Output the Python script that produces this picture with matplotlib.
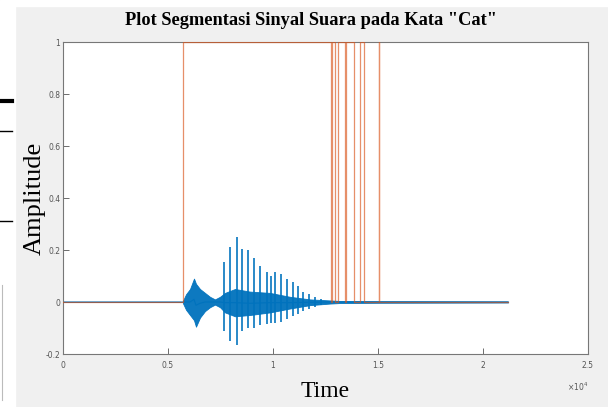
import numpy as np
import matplotlib
matplotlib.use("Agg")
import matplotlib.pyplot as plt
from matplotlib.patches import Rectangle
from matplotlib.lines import Line2D

# ---- data ----
# dense part of the speech waveform: sample index, upper and lower envelope
env_x = [0, 5700, 5714, 5860, 6048, 6238, 6333, 6524, 6762, 7000, 7238, 7476, 7714,
         8190, 8905, 9857, 10810, 11762, 12714, 13190, 15095, 21190]
env_hi = [0.0, 0.0, 0.005, 0.03, 0.05, 0.09, 0.07, 0.05, 0.035, 0.02, 0.01, 0.02, 0.035,
          0.05, 0.04, 0.035, 0.02, 0.01, 0.006, 0.004, 0.003, 0.002]
env_lo = [0.0, 0.0, -0.005, -0.03, -0.05, -0.07, -0.095, -0.06, -0.035, -0.02, -0.01, -0.02, -0.04,
          -0.055, -0.05, -0.04, -0.025, -0.012, -0.006, -0.004, -0.003, -0.002]

# glottal pulses of the voiced part: sample index, peak and trough
pulse_x = [7681, 7952, 8271, 8538, 8824, 9110, 9381, 9700, 9905, 10095, 10381, 10652,
           10938, 11176, 11443, 11714, 12000, 12286]
pulse_hi = [0.155, 0.21, 0.25, 0.205, 0.20, 0.17, 0.14, 0.117, 0.10, 0.117, 0.107, 0.09,
            0.078, 0.06, 0.04, 0.03, 0.02, 0.012]
pulse_lo = [-0.11, -0.15, -0.165, -0.11, -0.10, -0.10, -0.09, -0.085, -0.08, -0.08, -0.075,
            -0.065, -0.055, -0.045, -0.035, -0.025, -0.018, -0.01]

# segmentation (0/1) signal: transition times and level after each transition
seg_t = [0, 5714, 12762, 12810, 12952, 13095, 13440, 13480, 13857, 14143, 14333, 15030, 15070, 21190]
seg_v = [0, 1, 0, 1, 0, 1, 0, 1, 0, 1, 0, 1, 0, 0]

x_ticks = [0, 0.5e4, 1e4, 1.5e4, 2e4, 2.5e4]
x_ticklabels = ["0", "0.5", "1", "1.5", "2", "2.5"]
y_ticks = [-0.2, 0, 0.2, 0.4, 0.6, 0.8, 1]
y_ticklabels = ["-0.2", "0", "0.2", "0.4", "0.6", "0.8", "1"]

title = 'Plot Segmentasi Sinyal Suara pada Kata "Cat"'

# ---- figure ----
W, H = 608, 407
fig = plt.figure(figsize=(W / 100, H / 100), dpi=100)
fig.patch.set_facecolor("#f0f0f0")
# white scan border on left/top
fig.add_artist(Rectangle((0, 0), 15 / W, 1, transform=fig.transFigure, color="white", zorder=0))
fig.add_artist(Rectangle((0, 1 - 6 / H), 1, 6 / H, transform=fig.transFigure, color="white", zorder=0))
for (x0, x1, yy, lw) in [(0, 12, 101, 3.0), (0, 12, 131, 1.0), (0, 12, 221, 1.0)]:
    fig.add_artist(Line2D([x0 / W, x1 / W], [1 - yy / H, 1 - yy / H], transform=fig.transFigure,
                          color="black", lw=lw))
fig.add_artist(Line2D([2 / W, 2 / W], [1 - 285 / H, 1 - 400 / H], transform=fig.transFigure,
                      color="#bbbbbb", lw=0.8))

ax = fig.add_axes([63 / W, 1 - 354 / H, 525 / W, 312 / H])
ax.set_facecolor("white")

blue = "#0072BD"
orange = "#D95319"

ax.fill_between(env_x, env_lo, env_hi, color=blue, lw=0.6, edgecolor=blue, alpha=0.95, zorder=2)
ax.plot(env_x, [(a + b) / 2 for a, b in zip(env_hi, env_lo)], color=blue, lw=0.8, zorder=2)
ax.vlines(pulse_x, pulse_lo, pulse_hi, color=blue, lw=1.3, alpha=0.9, zorder=2)
ax.step(seg_t, seg_v, where="post", color=orange, lw=0.9, alpha=0.65, zorder=3)

ax.set_xlim(0, 2.5e4)
ax.set_ylim(-0.2, 1)
ax.set_xticks(x_ticks)
ax.set_xticklabels(x_ticklabels)
ax.set_yticks(y_ticks)
ax.set_yticklabels(y_ticklabels)
ax.tick_params(direction="in", length=4, width=0.6, colors="#555555", labelsize=5.5,
               top=False, right=False)
ax.tick_params(axis="x", pad=5)
ax.tick_params(axis="y", pad=2)
for s in ax.spines.values():
    s.set_color("#777777")
    s.set_linewidth(0.8)

ax.text(1.0, -0.085, r"$\times10^4$", transform=ax.transAxes, ha="right", va="top",
        fontsize=5.5, color="#555555")

ax.set_title(title, fontsize=13.2, fontweight="bold", family="Liberation Serif", pad=12,
             x=(311 - 63) / 525)
ax.set_xlabel("Time", fontsize=17, family="Liberation Serif", labelpad=8)
ax.set_ylabel("Amplitude", fontsize=19, family="Liberation Serif", labelpad=0)

fig.savefig("out.png", dpi=100, facecolor=fig.get_facecolor())
